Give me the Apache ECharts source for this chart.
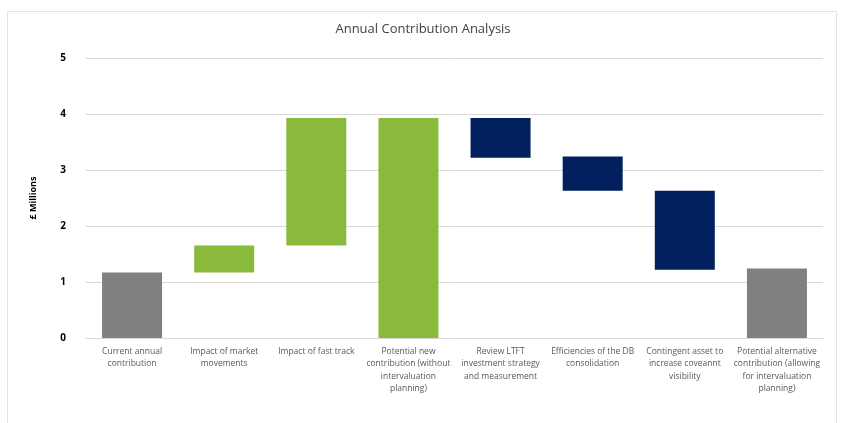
<!DOCTYPE html>
<html><head><meta charset="utf-8">
<script src="https://cdn.jsdelivr.net/npm/echarts@6/dist/echarts.min.js"></script>
<style>html,body{margin:0;padding:0;background:#fff}#c{width:846px;height:423px}</style>
</head><body><div id="c"></div>
<script>
const categories = [
  'Current annual\ncontribution',
  'Impact of market\nmovements',
  'Impact of fast track',
  'Potential new\ncontribution (without\nintervaluation\nplanning)',
  'Review LTFT\ninvestment strategy\nand measurement',
  'Efficiencies of the DB\nconsolidation',
  'Contingent asset to\nincrease coveannt\nvisibility',
  'Potential alternative\ncontribution (allowing\nfor intervaluation\nplanning)'
];
const barBottoms = [0, 1.17, 1.65, 0, 3.22, 2.63, 1.22, 0];
const barTops    = [1.17, 1.65, 3.93, 3.93, 3.93, 3.24, 2.63, 1.24];
const barKinds   = ['grey','green','green','green','navy','navy','navy','grey'];
const yTicks = [0, 1, 2, 3, 4, 5];

const colors = {grey:'#808080', green:'#8aba3c', navy:'#02205e'};
const heights = barTops.map((t,i)=>+(t-barBottoms[i]).toFixed(3));

const chart = echarts.init(document.getElementById('c'), null, {renderer:'canvas'});
chart.setOption({
  animation:false,
  backgroundColor:'#fff',
  graphic:[{type:'rect',shape:{x:7.5,y:11.5,width:829,height:430},style:{fill:'none',stroke:'#e3e3e3',lineWidth:1},silent:true}],
  title:{text:'Annual Contribution Analysis',left:'center',top:18,
    textStyle:{fontFamily:'Open Sans',fontSize:13,fontWeight:'normal',color:'#404040'}},
  grid:{left:86,right:23,top:58,bottom:85,containLabel:false},
  xAxis:{type:'category',data:categories,
    axisLine:{lineStyle:{color:'#d9d9d9'}},axisTick:{show:false},
    axisLabel:{interval:0,margin:7,fontFamily:'Open Sans',fontSize:8.5,color:'#595959',lineHeight:12.5,align:'center'}},
  yAxis:{type:'value',min:yTicks[0],max:yTicks[yTicks.length-1],interval:1,
    name:'£ Millions',nameLocation:'middle',nameGap:48,nameRotate:90,
    nameTextStyle:{fontFamily:'Open Sans',fontSize:9,fontWeight:'bold',color:'#000'},
    axisLine:{show:false},axisTick:{show:false},
    axisLabel:{fontFamily:'Open Sans',fontSize:10,fontWeight:'bold',color:'#000',margin:20},
    splitLine:{lineStyle:{color:'#d9d9d9',width:1}}},
  series:[
    {type:'bar',stack:'w',data:barBottoms,barWidth:60,itemStyle:{color:'transparent'},silent:true},
    {type:'bar',stack:'w',data:heights.map((h,i)=>({value:h,itemStyle:{color:colors[barKinds[i]]}})),barWidth:60}
  ]
});
</script></body></html>
